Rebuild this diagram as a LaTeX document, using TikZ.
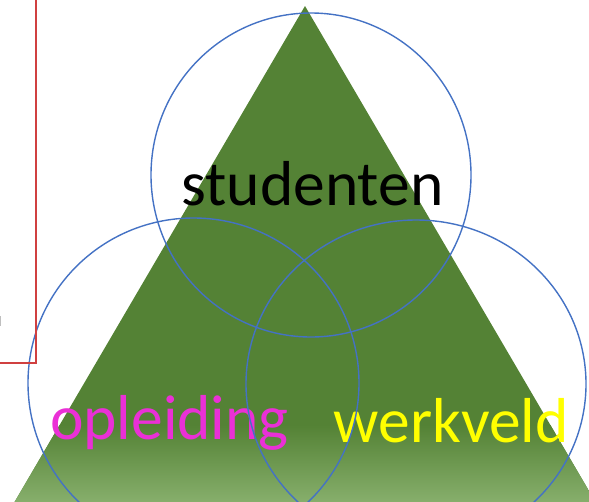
\documentclass[tikz,border=0pt]{standalone}
\usepackage{fontspec}
\setmainfont{Carlito}
\definecolor{trigreen}{RGB}{84,130,53}
\definecolor{trilight}{RGB}{134,174,107}
\definecolor{ringblue}{RGB}{68,114,196}
\definecolor{framered}{RGB}{208,64,64}
\definecolor{labelpink}{RGB}{234,48,214}
\definecolor{labelyellow}{RGB}{255,255,0}
\tikzset{
  ring/.style={draw=ringblue, line width=1.4pt},
  biglabel/.style={anchor=base, inner sep=0pt, font=\fontsize{63.5}{70}\selectfont},
}
\begin{document}
\begin{tikzpicture}[x=1pt,y=-1pt]
\useasboundingbox (0,0) rectangle (589,501);
\clip (0,0) rectangle (589,501);
% triangle
\fill[trigreen] (305,6) -- (606,520) -- (4,520) -- cycle;
\begin{scope}
  \clip (305,6) -- (606,520) -- (4,520) -- cycle;
  \shade[top color=trigreen, bottom color=trilight] (0,425) rectangle (589,501);
\end{scope}
% labels
\node[biglabel, text=black] (stud) at (312.5,205) {studenten};
\node[biglabel, text=labelpink] (opl) at (169.5,439) {opleiding};
\node[biglabel, text=labelyellow] (werk) at (451,442) {werkveld};
% rings
\draw[ring] (311,175) ellipse [x radius=160, y radius=162];
\draw[ring] (193.5,383) ellipse [x radius=165.5, y radius=165];
\draw[ring] (416,384) ellipse [x radius=170, y radius=164];
% red frame
\draw[framered, line width=1.6pt] (36,-2) -- (36,363) -- (-2,363);
\fill[gray!50] (0,316) rectangle (1.2,326);
\end{tikzpicture}
\end{document}
